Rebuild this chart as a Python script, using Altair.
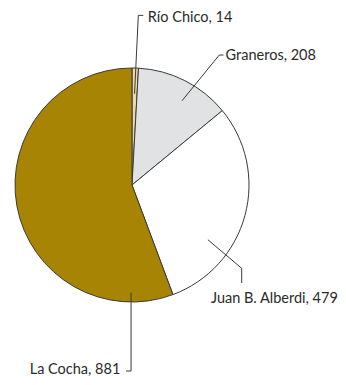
import math
import altair as alt
import pandas as pd

# ---- data ----
categories = ["Río Chico", "Graneros", "Juan B. Alberdi", "La Cocha"]
values = [14, 208, 479, 881]
colors = ["#EDD9A5", "#E1E2E4", "#FFFFFF", "#A88405"]

# ---- layout (radius units, centre of pie = 0,0, y up) ----
PAD_T, PAD_B, PAD_L, PAD_R = 8, 0, 0, 0
W, H = 330, 369 - PAD_T - PAD_B
R = 117
CX, CY = 124, 177 - PAD_T  # pie centre within plot area (px)
xdom = [-CX / R, (W - CX) / R]
ydom = [-(H - CY) / R, CY / R]
FS = 14.5

# leader geometry: anchor (angle deg from top clockwise, radius frac),
# elbow point, end point, label point, label align
leaders = {
    "Río Chico": dict(a=1.6, r=0.78, elbow=(0.054, 1.450), end=(0.097, 1.450), lab=(0.135, 1.424), align="left"),
    "Graneros": dict(a=30.7, r=0.838, elbow=(0.746, 1.111), end=(0.782, 1.111), lab=(0.800, 1.105), align="left"),
    "Juan B. Alberdi": dict(a=125.8, r=0.80, elbow=(0.9376, -0.712), end=(0.9376, -0.838), lab=(0.675, -0.974), align="left"),
    "La Cocha": dict(a=180.5, r=0.92, elbow=(-0.008, -1.590), end=(-0.051, -1.590), lab=(-0.100, -1.585), align="right"),
}

pie_df = pd.DataFrame({
    "category": categories,
    "value": values,
    "order": list(range(len(categories))),
    "cx": [0.0] * len(categories),
    "cy": [0.0] * len(categories),
})

line_rows = []
text_rows = []
for name, v in zip(categories, values):
    g = leaders[name]
    th = math.radians(g["a"])
    ax, ay = g["r"] * math.sin(th), g["r"] * math.cos(th)
    pts = [(ax, ay), g["elbow"], g["end"]]
    for i, (px, py) in enumerate(pts):
        line_rows.append({"category": name, "seq": i, "x": px, "y": py})
    text_rows.append({"label": f"{name}, {v}", "x": g["lab"][0], "y": g["lab"][1], "align": g["align"]})

line_df = pd.DataFrame(line_rows)
text_df = pd.DataFrame(text_rows)

xs = alt.Scale(domain=xdom, nice=False, zero=False)
ys = alt.Scale(domain=ydom, nice=False, zero=False)

pie = alt.Chart(pie_df).mark_arc(stroke="#3a3a3a", strokeWidth=1, radius=R).encode(
    x=alt.X("cx:Q", scale=xs, axis=None),
    y=alt.Y("cy:Q", scale=ys, axis=None),
    theta=alt.Theta("value:Q", stack=True),
    order=alt.Order("order:Q"),
    color=alt.Color("category:N", scale=alt.Scale(domain=categories, range=colors), legend=None),
)

lines = alt.Chart(line_df).mark_line(color="#3a3a3a", strokeWidth=1).encode(
    x=alt.X("x:Q", scale=xs, axis=None),
    y=alt.Y("y:Q", scale=ys, axis=None),
    detail="category:N",
    order="seq:Q",
)

text_left = alt.Chart(text_df[text_df["align"] == "left"]).mark_text(
    align="left", baseline="middle", font="Lato", fontSize=FS, color="#2a2a2a"
).encode(
    x=alt.X("x:Q", scale=xs, axis=None),
    y=alt.Y("y:Q", scale=ys, axis=None),
    text="label:N",
)
text_right = alt.Chart(text_df[text_df["align"] == "right"]).mark_text(
    align="right", baseline="middle", font="Lato", fontSize=FS, color="#2a2a2a"
).encode(
    x=alt.X("x:Q", scale=xs, axis=None),
    y=alt.Y("y:Q", scale=ys, axis=None),
    text="label:N",
)

chart = alt.layer(pie, lines, text_left, text_right).properties(
    width=W, height=H,
    padding={"top": PAD_T, "bottom": PAD_B, "left": PAD_L, "right": PAD_R},
    autosize=alt.AutoSizeParams(type="none"),
    background="white",
).configure_view(stroke=None)

chart.save("out.html", embed_options={"renderer": "svg", "actions": False})
